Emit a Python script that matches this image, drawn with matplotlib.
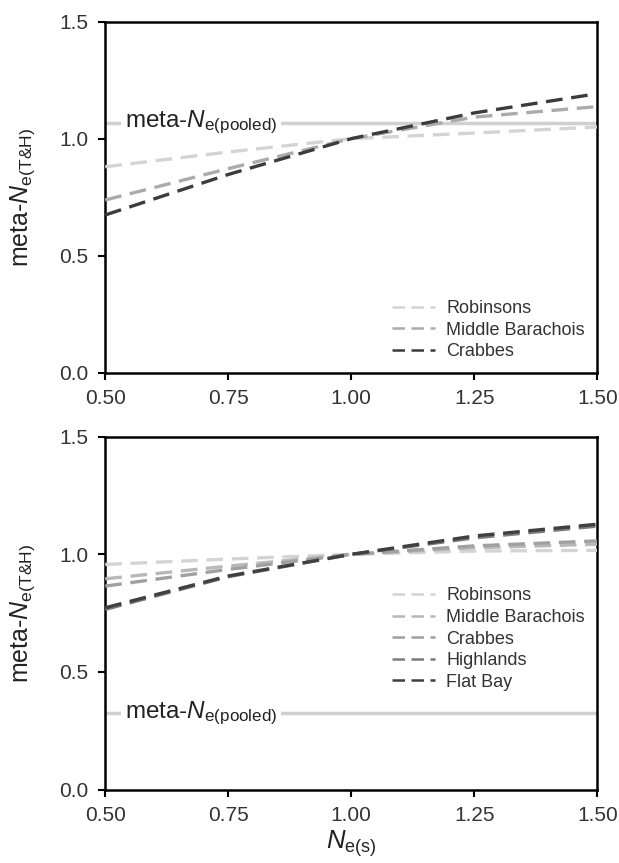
import numpy as np
import matplotlib.pyplot as plt

plt.rcParams['font.family'] = ['Liberation Sans', 'DejaVu Sans']
plt.rcParams['mathtext.fontset'] = 'custom'
plt.rcParams['mathtext.rm'] = 'Liberation Sans'
plt.rcParams['mathtext.it'] = 'Liberation Sans:italic'

# x values (Ne(s))
ne_s = [0.50, 0.75, 1.00, 1.25, 1.50]

# top panel
top_names = ['Robinsons', 'Middle Barachois', 'Crabbes']
top_values = [
    [0.88, 0.943, 1.00, 1.024, 1.05],
    [0.738, 0.872, 1.00, 1.092, 1.137],
    [0.674, 0.847, 1.00, 1.11, 1.192],
]
top_colors = ['#d4d4d4', '#ababab', '#3c3c3c']
top_pooled = 1.068

# bottom panel
bot_names = ['Robinsons', 'Middle Barachois', 'Crabbes', 'Highlands', 'Flat Bay']
bot_values = [
    [0.957, 0.98, 1.00, 1.014, 1.017],
    [0.896, 0.95, 1.00, 1.028, 1.043],
    [0.865, 0.936, 1.00, 1.036, 1.057],
    [0.766, 0.905, 1.00, 1.07, 1.12],
    [0.773, 0.908, 1.00, 1.078, 1.128],
]
bot_colors = ['#d4d4d4', '#b8b8b8', '#a0a0a0', '#7c7c7c', '#404040']
bot_pooled = 0.325

xticks = [0.50, 0.75, 1.00, 1.25, 1.50]
yticks = [0.0, 0.5, 1.0, 1.5]

ylab = r'meta-$\mathit{N}_{\mathrm{e(T&H)}}$'
pooled_lab = r'meta-$\mathit{N}_{\mathrm{e(pooled)}}$'

fig = plt.figure(figsize=(6.19, 8.63), dpi=100)
ax1 = fig.add_axes([0.170, 0.568, 0.795, 0.407])
ax2 = fig.add_axes([0.170, 0.085, 0.795, 0.409])


def draw_panel(ax, names, values, colors, pooled, legend_anchor):
    ax.axhline(pooled, color='#d0d0d0', lw=2.5, zorder=1)
    ax.text(0.54, pooled, pooled_lab, fontsize=17.5, color='#222222',
            va='center', ha='left', zorder=2,
            bbox=dict(facecolor='white', edgecolor='none', pad=3))
    for name, vals, c in zip(names, values, colors):
        ax.plot(ne_s, vals, color=c, lw=2.4, ls=(0, (5, 2.6)), label=name, zorder=3)
    ax.set_xlim(0.5, 1.5)
    ax.set_ylim(0.0, 1.5)
    ax.set_xticks(xticks)
    ax.set_xticklabels(['%.2f' % t for t in xticks])
    ax.set_yticks(yticks)
    ax.set_yticklabels(['%.1f' % t for t in yticks])
    ax.tick_params(direction='out', length=5, width=1.5, labelsize=15,
                   colors='black', labelcolor='#333333', pad=7)
    for s in ax.spines.values():
        s.set_linewidth(1.8)
    ax.set_ylabel(ylab, fontsize=18, color='#222222')
    ax.yaxis.set_label_coords(-0.138, 0.5)
    leg = ax.legend(loc='lower right', bbox_to_anchor=legend_anchor, frameon=False,
                    fontsize=13, handlelength=2.4, handletextpad=0.6,
                    labelspacing=0.25, borderaxespad=0.3)
    for t in leg.get_texts():
        t.set_color('#333333')
    for ln in leg.get_lines():
        ln.set_linewidth(1.8)


draw_panel(ax1, top_names, top_values, top_colors, top_pooled, (1.0, 0.0))
draw_panel(ax2, bot_names, bot_values, bot_colors, bot_pooled, (1.0, 0.245))
ax2.set_xlabel(r'$\mathit{N}_{\mathrm{e(s)}}$', fontsize=18.5, color='#222222', labelpad=2)

fig.savefig('out.png', dpi=100)
